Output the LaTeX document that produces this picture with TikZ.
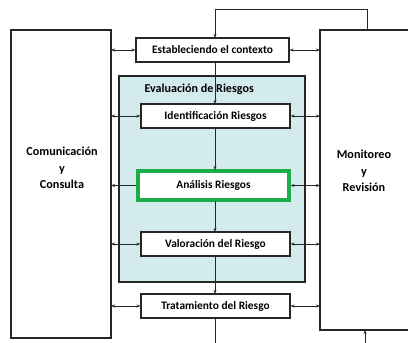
\documentclass[tikz,border=0pt]{standalone}
\usepackage{fontspec}
\setmainfont{Carlito}
\usetikzlibrary{arrows.meta}
\definecolor{shade}{RGB}{212,235,238}
\definecolor{grn}{RGB}{28,172,72}
\tikzset{
  stepbox/.style={draw=black!85, line width=1.1pt, fill=white, minimum height=24pt, inner sep=0pt, font=\bfseries\fontsize{11.4}{13}\selectfont},
  conn/.style={draw=black!85, line width=0.8pt},
  tip/.style={-{Stealth[length=4pt,width=3pt]}},
  tips/.style={{Stealth[length=4pt,width=3pt]}-{Stealth[length=4pt,width=3pt]}},
  lbl/.style={font=\bfseries\fontsize{12.2}{16.5}\selectfont, align=center}
}
\begin{document}
\begin{tikzpicture}[x=1pt,y=-1pt]
\useasboundingbox (0,0) rectangle (408,343);
% side boxes
\draw[conn, line width=1.1pt] (11,30) rectangle (111,338);
\draw[conn, line width=1.1pt] (408,30) -- (320,30) -- (320,330) -- (408,330);
\node[lbl] (com) at (62,168) {Comunicación\\y\\Consulta};
\node[lbl] (mon) at (364,171) {Monitoreo\\y\\Revisión};
\coordinate (L) at (111,0);
\coordinate (R) at (320,0);
% evaluation area
\draw[conn, line width=1.1pt, fill=shade] (119,76) rectangle (305,282);
% boxes
\node[stepbox, minimum width=153pt] (est) at (212.5,50) {Estableciendo el contexto};
\node[stepbox, minimum width=149pt] (ide) at (215.5,116) {Identificación Riesgos};
\node[stepbox, draw=grn, line width=3.2pt, minimum width=151pt, minimum height=29pt] (ana) at (213.5,185.5) {Análisis Riesgos};
\node[stepbox, minimum width=149pt] (val) at (215.5,244) {Valoración del Riesgo};
\node[stepbox, minimum width=149pt] (tra) at (215.5,306) {Tratamiento del Riesgo};
% vertical flow
\coordinate (top1) at (215,9);
\coordinate (top2) at (367,9);
\coordinate (top3) at (367,30);
\draw[conn] (top3) -- (top2) -- (top1);
\draw[conn, tip] (top1) -- (215,38);
\draw[conn, tip] (215,62) -- (215,104);
\draw[conn, tip] (215,128) -- (215,170);
\draw[conn, tip] (215,201) -- (215,232);
\draw[conn, tip] (215,256) -- (215,294);
\coordinate (bot) at (215,343);
\draw[conn] (tra.south -| bot) -- (bot);
\coordinate (bot2) at (365,343);
\draw[conn, tip] (bot2) -- (365,330);
% horizontal arrows
\foreach \n in {est,ide,val,tra}{
  \draw[conn, tips] (\n.west -| L) -- (\n.west);
  \draw[conn, tips] (\n.east) -- (\n.east -| R);
}
\draw[conn, tip] (ana.west) -- (ana.west -| L);
\draw[conn, tips] (ana.east) -- (ana.east -| R);
% evaluation title
\node[font=\bfseries\fontsize{12.1}{14}\selectfont, anchor=west] (evt) at (141,89) {Evaluación de Riesgos};
\end{tikzpicture}
\end{document}
